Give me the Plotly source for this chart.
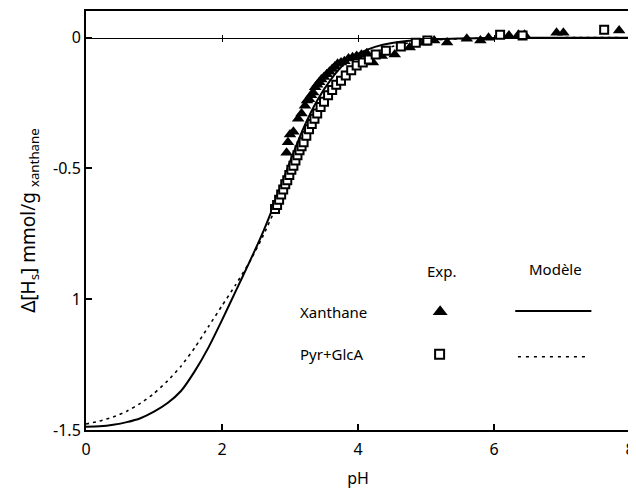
"""Delta[Hs] vs pH titration chart: xanthane and Pyr+GlcA, experiment and model."""

import plotly.graph_objects as go

# ── Data ──────────────────────────────────────────────────────────────────────

# model curves
model_x_xan = [0, 0.2, 0.4, 0.6, 0.8, 1.0, 1.2, 1.4, 1.6, 1.8, 2.0, 2.2, 2.4,
               2.6, 2.8, 3.0, 3.2, 3.4, 3.6, 3.8, 4.0, 4.25, 4.5, 5.0, 5.5,
               6.0, 7.0, 8.0]
model_y_xan = [-1.488, -1.486, -1.48, -1.47, -1.455, -1.43, -1.397, -1.35,
               -1.275, -1.185, -1.08, -0.97, -0.86, -0.745, -0.615, -0.475,
               -0.345, -0.24, -0.16, -0.10, -0.062, -0.035, -0.02, -0.007,
               -0.003, -0.001, 0.0, 0.0]

model_x_pyr = [0, 0.2, 0.4, 0.6, 0.8, 1.0, 1.2, 1.4, 1.6, 1.8, 2.0, 2.2, 2.4,
               2.6, 2.8, 3.0, 3.2, 3.4, 3.6, 3.8, 4.0, 4.3, 4.6, 5.0, 5.5,
               6.0, 7.0, 8.0]
model_y_pyr = [-1.477, -1.466, -1.45, -1.428, -1.398, -1.36, -1.312, -1.255,
               -1.185, -1.105, -1.025, -0.945, -0.86, -0.76, -0.645, -0.525,
               -0.405, -0.30, -0.215, -0.148, -0.098, -0.052, -0.027, -0.011,
               -0.004, -0.001, 0.0, 0.0]

# experimental points
exp_x_xan = [2.95, 2.97, 3.00, 3.05, 3.12, 3.17, 3.22, 3.25, 3.28, 3.31, 3.34,
             3.37, 3.40, 3.43, 3.46, 3.50, 3.54, 3.58, 3.62, 3.66, 3.70, 3.75,
             3.80, 3.86, 3.92, 3.98, 4.05, 4.13, 4.22, 4.35, 4.54, 4.76, 4.98,
             5.12, 5.31, 5.60, 5.80, 5.92, 6.22, 6.36, 6.45, 6.92, 7.02, 7.84]
exp_y_xan = [-0.44, -0.40, -0.37, -0.36, -0.31, -0.29, -0.26, -0.24, -0.235,
             -0.22, -0.21, -0.19, -0.18, -0.17, -0.16, -0.15, -0.14, -0.13,
             -0.12, -0.11, -0.10, -0.095, -0.09, -0.08, -0.075, -0.07, -0.065,
             -0.06, -0.095, -0.07, -0.064, -0.038, -0.019, -0.011, -0.018,
             -0.004, -0.011, 0.0, 0.008, 0.011, 0.011, 0.019, 0.019, 0.027]

exp_x_pyr = [2.78, 2.81, 2.84, 2.87, 2.90, 2.93, 2.96, 2.99, 3.02, 3.05, 3.08,
             3.11, 3.14, 3.17, 3.20, 3.24, 3.28, 3.32, 3.36, 3.40, 3.45, 3.50,
             3.56, 3.62, 3.68, 3.75, 3.82, 3.90, 3.98, 4.07, 4.16, 4.26, 4.41,
             4.63, 4.85, 5.02, 6.09, 6.42, 7.62]
exp_y_pyr = [-0.655, -0.64, -0.62, -0.60, -0.58, -0.56, -0.545, -0.525, -0.505,
             -0.49, -0.47, -0.45, -0.43, -0.415, -0.40, -0.375, -0.35, -0.33,
             -0.31, -0.29, -0.265, -0.245, -0.22, -0.20, -0.18, -0.165, -0.145,
             -0.125, -0.106, -0.095, -0.083, -0.064, -0.05, -0.034, -0.019,
             -0.011, 0.011, 0.008, 0.03]

y_ticks = [0, -0.5, -1.0, -1.5]
y_ticktext = ['0', '-0.5', '1', '-1.5']
x_ticks = [0, 2, 4, 6, 8]

_FONT = 'Noto Sans'
_Y_RANGE = [-1.5, 0.102]

fig = go.Figure()

fig.add_trace(go.Scatter(
    x=model_x_pyr, y=model_y_pyr, mode='lines',
    line=dict(color='black', width=1.6, dash='3px,4px', shape='spline', smoothing=0.6),
))
fig.add_trace(go.Scatter(
    x=model_x_xan, y=model_y_xan, mode='lines',
    line=dict(color='black', width=2, shape='spline', smoothing=0.6),
))
fig.add_trace(go.Scatter(
    x=exp_x_xan, y=exp_y_xan, mode='markers',
    marker=dict(symbol='triangle-up', size=11, color='black'),
))
fig.add_trace(go.Scatter(
    x=exp_x_pyr, y=exp_y_pyr, mode='markers',
    marker=dict(symbol='square', size=8, color='white',
                line=dict(color='black', width=2)),
))

# ── Legend (drawn by hand on an overlay axis in [0, 1]) ───────────────────────

fig.add_trace(go.Scatter(
    x=[0.651], y=[0.282], mode='markers', xaxis='x2', yaxis='y2',
    marker=dict(symbol='triangle-up', size=13, color='black'),
))
fig.add_trace(go.Scatter(
    x=[0.65], y=[0.181], mode='markers', xaxis='x2', yaxis='y2',
    marker=dict(symbol='square', size=9, color='white',
                line=dict(color='black', width=2)),
))
fig.add_trace(go.Scatter(
    x=[0.789, 0.929], y=[0.284, 0.284], mode='lines', xaxis='x2', yaxis='y2',
    line=dict(color='black', width=2),
))
fig.add_trace(go.Scatter(
    x=[0.794, 0.925], y=[0.175, 0.175], mode='lines', xaxis='x2', yaxis='y2',
    line=dict(color='black', width=1.6, dash='3px,5px'),
))

legend_text = [
    ('Exp.', 0.654, 0.379, 'center'),
    ('Modèle', 0.863, 0.384, 'center'),
    ('Xanthane', 0.39, 0.282, 'left'),
    ('Pyr+GlcA', 0.39, 0.182, 'left'),
]
annotations = [
    dict(text=t, x=x, y=y, xref='paper', yref='paper', showarrow=False,
         xanchor=anchor, yanchor='middle',
         font=dict(family=_FONT, size=15, color='black'))
    for t, x, y, anchor in legend_text
]

axis_common = dict(showgrid=False, zeroline=False, color='black')

zero_pos = (0 - _Y_RANGE[0]) / (_Y_RANGE[1] - _Y_RANGE[0])

# page body adds 8px around the figure, so the figure is sized to fit
fig.update_layout(
    width=628, height=486,
    paper_bgcolor='white', plot_bgcolor='white',
    margin=dict(l=78, r=1, t=1, b=64),
    showlegend=False,
    font=dict(family=_FONT, size=15, color='black'),
    xaxis=dict(
        **axis_common, range=[0, 8], tickvals=x_ticks,
        showline=True, linewidth=2, linecolor='black', mirror=True,
        ticks='inside', ticklen=6, tickwidth=1.5, ticklabelstandoff=4,
        ticklabeloverflow='allow',
        title=dict(text='pH', standoff=14, font=dict(size=16)),
        tickfont=dict(size=16),
    ),
    yaxis=dict(
        **axis_common, range=_Y_RANGE, tickvals=y_ticks, ticktext=y_ticktext,
        showline=True, linewidth=2, linecolor='black', mirror=True,
        ticks='inside', ticklen=6, tickwidth=1.5,
        title=dict(text='Δ[H<sub>s</sub>] mmol/g <sub>xanthane</sub>',
                   standoff=12, font=dict(size=19)),
        tickfont=dict(size=16),
    ),
    # zero line with small crossing ticks
    xaxis3=dict(
        **axis_common, range=[0, 8], tickvals=[2, 4, 6], overlaying='x',
        anchor='free', position=zero_pos, showline=True, linewidth=1,
        linecolor='black', ticks='outside', ticklen=3, tickwidth=1,
        showticklabels=False,
    ),
    xaxis4=dict(
        **axis_common, range=[0, 8], tickvals=[2, 4, 6], overlaying='x',
        anchor='free', position=zero_pos, showline=False,
        ticks='inside', ticklen=3, tickwidth=1, tickcolor='black',
        showticklabels=False,
    ),
    xaxis2=dict(range=[0, 1], overlaying='x', visible=False),
    yaxis2=dict(range=[0, 1], overlaying='y', visible=False, anchor='x2'),
    annotations=annotations,
)

# attach empty helper traces so the zero-line axes render
fig.add_trace(go.Scatter(x=[None], y=[None], xaxis='x3', yaxis='y', showlegend=False))
fig.add_trace(go.Scatter(x=[None], y=[None], xaxis='x4', yaxis='y', showlegend=False))

fig.write_html("out.html")
